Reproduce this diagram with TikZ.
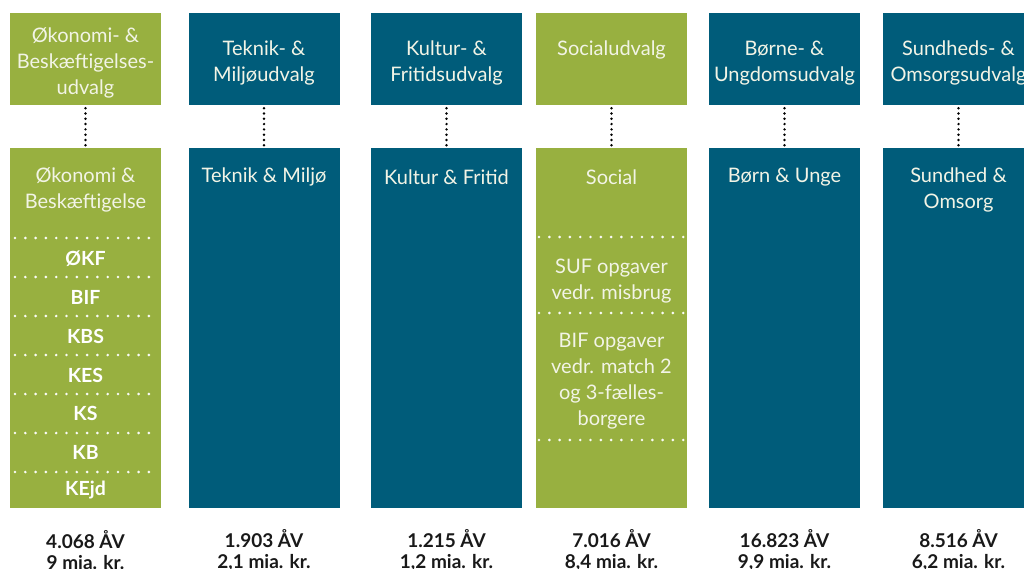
\documentclass[tikz,border=0pt]{standalone}
\usepackage{fontspec}
\setmainfont{Lato}
\usetikzlibrary{positioning}
\definecolor{udvgreen}{RGB}{152,176,64}
\definecolor{udvblue}{RGB}{0,92,122}
\definecolor{udvtext}{RGB}{242,244,230}
\definecolor{taltext}{RGB}{25,25,25}

\begin{document}
\begin{tikzpicture}[x=1pt,y=-1pt,
	udvalg/.style={minimum width=151pt,minimum height=92pt,inner sep=0pt},
	omraade/.style={minimum width=151pt,minimum height=360pt,inner sep=0pt,anchor=north},
	hoved/.style={inner sep=0pt,align=center,text=udvtext,font=\fontsize{20}{26}\selectfont},
	enhed/.style={inner sep=0pt,text=white,font=\fontsize{19.5}{21}\bfseries\selectfont},
	tal/.style={inner sep=0pt,align=center,text=taltext,font=\fontsize{19}{21}\bfseries\selectfont},
	forbindelse/.style={line width=2.7pt,line cap=round,dash pattern=on 0pt off 5.3pt,
		shorten <=3pt,shorten >=2pt},
	skillelinje/.style={white!95!udvgreen,line width=2.9pt,line cap=round,dash pattern=on 0pt off 10.3pt}
	]
	\useasboundingbox (0,0) rectangle (1024,569);
	\clip (0,0) rectangle (1024,569);
	% udvalg
	\node[udvalg,fill=udvgreen] (oeb-udv) at (85.5,59) {};
	\node[udvalg,fill=udvblue] (tm-udv) at (264,59) {};
	\node[udvalg,fill=udvblue] (kf-udv) at (446.5,59) {};
	\node[udvalg,fill=udvgreen] (soc-udv) at (611.5,59) {};
	\node[udvalg,fill=udvblue] (bu-udv) at (784.5,59) {};
	\node[udvalg,fill=udvblue] (so-udv) at (958.5,59) {};
	\node[hoved] (oeb-navn) at ([yshift=-4pt]oeb-udv.center) {Økonomi- \&\\Beskæftigelses-\\udvalg};
	\node[hoved] (tm-navn) at ([yshift=-4pt]tm-udv.center) {Teknik- \&\\Miljøudvalg};
	\node[hoved] (kf-navn) at ([yshift=-4pt]kf-udv.center) {Kultur- \&\\Fritidsudvalg};
	\node[hoved] (soc-navn) at ([yshift=-2pt]soc-udv.center) {Socialudvalg\\~};
	\node[hoved] (bu-navn) at ([yshift=-4pt]bu-udv.center) {Børne- \&\\Ungdomsudvalg};
	\node[hoved] (so-navn) at ([yshift=-4pt]so-udv.center) {Sundheds- \&\\Omsorgsudvalg};
	% omraader
	\node[omraade,fill=udvgreen] (oeb-omr) at (85.5,148) {};
	\node[omraade,fill=udvblue] (tm-omr) at (264,148) {};
	\node[omraade,fill=udvblue] (kf-omr) at (446.5,148) {};
	\node[omraade,fill=udvgreen] (soc-omr) at (611.5,148) {};
	\node[omraade,fill=udvblue] (bu-omr) at (784.5,148) {};
	\node[omraade,fill=udvblue] (so-omr) at (958.5,148) {};
	\foreach \a in {oeb,tm,kf,soc,bu,so}
		\draw[forbindelse] (\a-udv) -- (\a-omr);
	\node[hoved] (oeb-hov) at (85.5,190) {Økonomi \&\\Beskæftigelse};
	\node[hoved] (tm-hov) at (264,177) {Teknik \& Miljø};
	\node[hoved] (kf-hov) at (446.5,177) {Kultur \& Fritid};
	\node[hoved] (soc-hov) at (611.5,177) {Social};
	\node[hoved] (bu-hov) at (784.5,177) {Børn \& Unge};
	\node[hoved] (so-hov) at (958.5,190) {Sundhed \&\\Omsorg};
	% enheder under oekonomi og beskaeftigelse
	\foreach \y in {238,277,316,355,394,433,472}
		\draw[skillelinje] (15,\y) -- (158,\y);
	\foreach \lbl/\y/\nm in {ØKF/259/okf,BIF/297/bif,KBS/336/kbs,KES/375/kes,KS/413/ks,KB/452/kb,KEjd/490/kejd}
		\node[enhed] (\nm) at (85.5,\y) {\lbl};
	% social
	\foreach \y in {237,313,440}
		\draw[skillelinje] (539,\y) -- (684,\y);
	\node[hoved] (suf) at (611.5,281) {SUF opgaver\\vedr. misbrug};
	\node[hoved] (bifsoc) at (611.5,381) {BIF opgaver\\vedr. match 2\\og 3-fælles-\\borgere};
	% aarsvaerk og budget
	\node[tal] (oeb-tal) at (85.5,550) {4.068 ÅV\\9 mia. kr.};
	\node[tal] (tm-tal) at (264,550) {1.903 ÅV\\2,1 mia. kr.};
	\node[tal] (kf-tal) at (446.5,550) {1.215 ÅV\\1,2 mia. kr.};
	\node[tal] (soc-tal) at (611.5,550) {7.016 ÅV\\8,4 mia. kr.};
	\node[tal] (bu-tal) at (784.5,550) {16.823 ÅV\\9,9 mia. kr.};
	\node[tal] (so-tal) at (958.5,550) {8.516 ÅV\\6,2 mia. kr.};
\end{tikzpicture}
\end{document}
